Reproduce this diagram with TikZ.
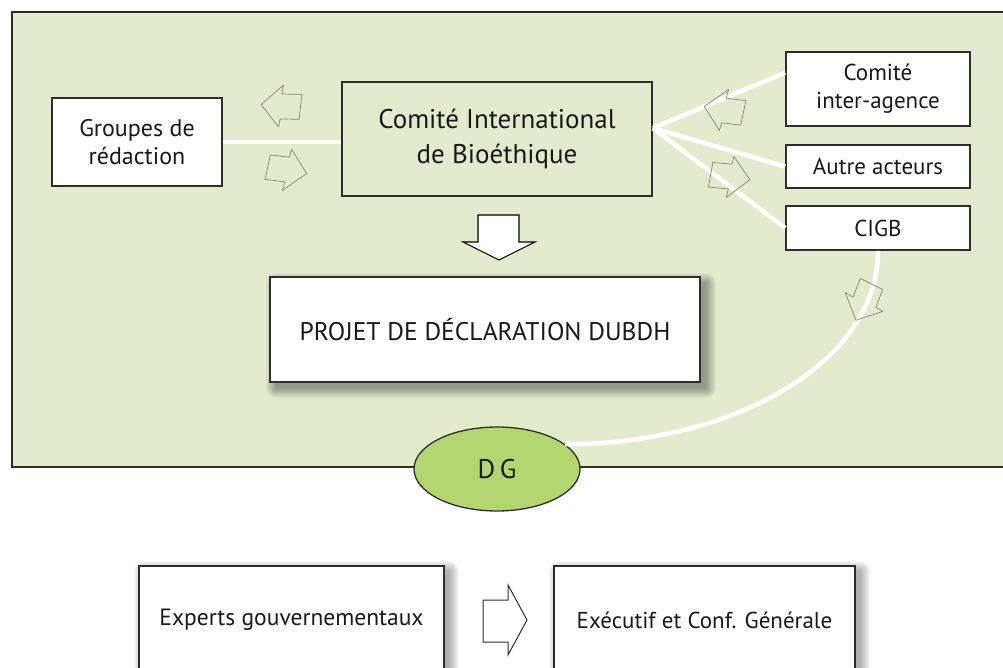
\documentclass[tikz,border=0pt]{standalone}
\usepackage{fontspec}
\setmainfont{PT Sans}
\usetikzlibrary{shapes.geometric}
\definecolor{panelgreen}{RGB}{226,236,205}
\definecolor{dggreen}{RGB}{180,214,112}
\definecolor{edge}{RGB}{45,45,45}
\definecolor{txt}{RGB}{25,25,25}
\definecolor{thinarrow}{RGB}{130,135,120}
\tikzset{
  whitebox/.style={draw=edge, line width=1.6pt, fill=white, text=txt, align=center, inner sep=0pt},
  wline/.style={white, line width=4.5pt},
  harrowstyle/.style={draw=thinarrow, line width=0.7pt, line join=round},
}
\newcommand\harrow[3]{\draw[harrowstyle, shift={(#1,#2)}, rotate=#3] (-19,-12) -- (0,-13) -- (1,-21) -- (20,0) -- (-1,21) -- (0,12) -- (-20,13) -- cycle;}
\begin{document}
\begin{tikzpicture}[x=1pt,y=-1pt]
\useasboundingbox (0,0) rectangle (1003,668);
\clip (0,0) rectangle (1003,668);
\fill[white] (0,0) rectangle (1003,668);
% panel
\draw[fill=panelgreen, draw=edge, line width=1.5pt] (12,12) rectangle (1012,467);
% shadows
\foreach \k in {0,...,10} {
  \fill[black, opacity=0.035, rounded corners=\k pt] (276-\k,283-\k) rectangle (706+\k,388+\k);
  \fill[black, opacity=0.03, rounded corners=\k pt] (144-\k,571-\k) rectangle (449+\k,690);
  \fill[black, opacity=0.03, rounded corners=\k pt] (559-\k,571-\k) rectangle (860+\k,690);
}
% nodes
\node[whitebox, minimum width=170pt, minimum height=88pt, font=\fontsize{24}{28}\selectfont] (grp) at (137,142) {Groupes de\\rédaction};
\node[whitebox, fill=panelgreen, minimum width=310pt, minimum height=114pt, font=\fontsize{27}{35}\selectfont] (cib) at (497,139) {Comité International\\de Bioéthique};
\node[whitebox, minimum width=184pt, minimum height=74pt, font=\fontsize{23}{28}\selectfont] (cia) at (878,89) {Comité\\inter-agence};
\node[whitebox, minimum width=184pt, minimum height=43pt, font=\fontsize{23}{28}\selectfont] (aut) at (878,166.5) {Autre acteurs};
\node[whitebox, minimum width=184pt, minimum height=44pt, font=\fontsize{23}{28}\selectfont] (cigb) at (878,228) {CIGB};
\node[whitebox, minimum width=430pt, minimum height=105pt, font=\fontsize{25.5}{28}\selectfont] (proj) at (485,329.5) {PROJET DE DÉCLARATION DUBDH};
\node[ellipse, draw=edge, line width=1.3pt, fill=dggreen, minimum width=166pt, minimum height=84pt, inner sep=0pt, text=txt, font=\fontsize{27}{28}\selectfont] (dg) at (497,469) {D\,G};
\node[whitebox, minimum width=305pt, minimum height=108pt, font=\fontsize{23.5}{28}\selectfont] (exp) at (291.5,620) {Experts gouvernementaux};
\node[whitebox, minimum width=301pt, minimum height=108pt, font=\fontsize{23}{28}\selectfont] (exe) at (704.5,620) {Exécutif et Conf. Générale};
% connectors
\coordinate (hub) at (cib.4);
\draw[wline] (grp.east) -- (grp.east -| cib.west);
\draw[wline] (hub) -- (cia.170);
\draw[wline] (hub) -- (aut.west);
\draw[wline] (hub) -- (cigb.west);
\draw[wline] (cigb.south) .. controls +(0,111) and +(170,0) .. (dg.20);
% thin arrows
\harrow{281}{106}{176}
\harrow{287}{170}{-10}
\harrow{724}{110}{170}
\harrow{730}{177}{-8}
\harrow{864}{302}{246}
% big down arrow
\draw[draw=black, line width=1.1pt, fill=white, line join=miter] (478,215) -- (519,215) -- (519,242) -- (535,242) -- (499,260) -- (463,242) -- (478,242) -- cycle;
% bottom arrow
\draw[draw=edge, line width=1pt, fill=white] (483,600) -- (508,600) -- (508,585) -- (527,620) -- (508,655) -- (508,642) -- (483,642) -- cycle;
\end{tikzpicture}
\end{document}
